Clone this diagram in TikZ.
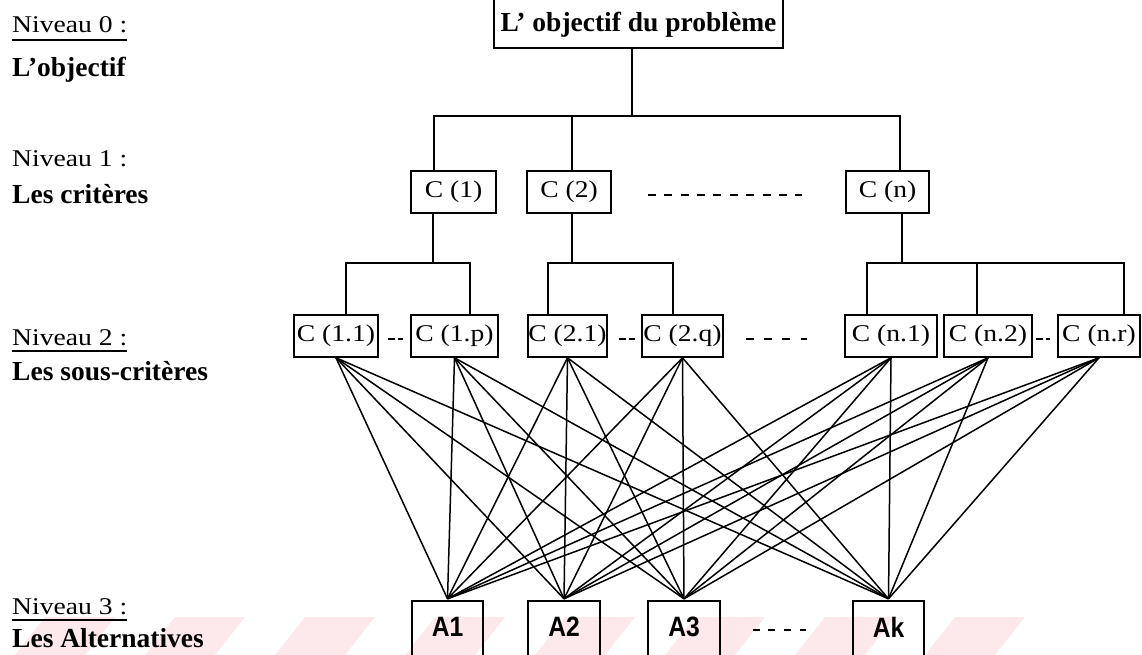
\documentclass[tikz,border=0pt]{standalone}
\usepackage{fontspec}
\setmainfont{Liberation Serif}
\newfontfamily\regfont[FakeStretch=1.15]{Liberation Serif}
\newfontfamily\altfont[FakeStretch=0.88]{Liberation Sans}
\definecolor{wmpink}{RGB}{253,233,236}

\tikzset{
  box/.style={draw, line width=1.6pt, inner sep=0pt, minimum height=42pt,
              font=\fontsize{24}{28}\regfont},
  headbox/.style={draw, line width=1.6pt, inner sep=0pt,
              font=\fontsize{27.5}{32}\selectfont\bfseries},
  lvl/.style={anchor=base west, inner sep=0pt, font=\fontsize{24}{28}\regfont},
  lvlb/.style={anchor=base west, inner sep=0pt, font=\fontsize{27.5}{32}\selectfont\bfseries},
  alt/.style={inner sep=0pt, minimum width=71pt, minimum height=52pt,
              font=\fontsize{28}{32}\altfont\bfseries},
  tree/.style={line width=1.7pt},
  web/.style={line width=1.5pt},
  uline/.style={line width=1.4pt},
  dots/.style={line width=1.6pt, dash pattern=on 8pt off 8.4pt},
  dotsfour/.style={line width=1.6pt, dash pattern=on 8pt off 10.3pt},
  dotsalt/.style={line width=1.6pt, dash pattern=on 7pt off 8.7pt},
  pair/.style={line width=1.6pt, dash pattern=on 7.5pt off 3pt},
}

\begin{document}
\begin{tikzpicture}[x=1pt, y=-1pt]
\useasboundingbox (0,0) rectangle (1142,655);
\clip (0,0) rectangle (1142,655);

% faint watermark bands along the bottom edge
\foreach \x in {45,175,305,435,565,695,825,955} {
  \fill[wmpink] (\x,617) -- (\x+70,617) -- (\x+40,655) -- (\x-30,655) -- cycle;
}

% level labels on the left
\node[lvl] (N0) at (12,33) {Niveau 0 :};
\draw[uline] ([yshift=-7pt]N0.base west) -- ([yshift=-7pt]N0.base east);
\node[lvlb] (L0) at (12,77) {L'objectif};
\node[lvl] (N1) at (12,167) {Niveau 1 :};
\node[lvlb] (L1) at (12,203) {Les critères};
\node[lvl] (N2) at (12,345) {Niveau 2 :};
\draw[uline] ([yshift=-6pt]N2.base west) -- ([yshift=-6pt]N2.base east);
\node[lvlb] (L2) at (12,380) {Les sous-critères};
\node[lvl] (N3) at (12,614) {Niveau 3 :};
\draw[uline] ([yshift=-6pt]N3.base west) -- ([yshift=-6pt]N3.base east);
\node[lvlb] (L3) at (12,647) {Les Alternatives};

% level 0: the goal (its top edge lies above the page)
\node[headbox, minimum width=289pt, minimum height=56pt,
      text height=26pt, text depth=2pt] (T) at (638.5,20) {L' objectif du problème};

% level 1: criteria
\node[box, minimum width=85pt] (C1) at (453.5,192) {C (1)};
\node[box, minimum width=84pt] (C2) at (569,192) {C (2)};
\node[box, minimum width=83pt] (Cn) at (887.5,192) {C (n)};

\coordinate (b0) at (632,116);
\coordinate (b1) at (434,116);
\coordinate (b2) at (572,116);
\coordinate (bn) at (900,116);
\draw[tree] (T.south -| b0) -- (b0);
\draw[tree] (C1.north -| b1) |- (bn) -- (Cn.north -| bn);
\draw[tree] (b2) -- (C2.north -| b2);
\draw[dots] ([xshift=36pt,yshift=-3pt]C2.east) -- ([xshift=-43pt,yshift=-3pt]Cn.west);

% level 2: sub-criteria
\node[box, minimum width=84pt] (C11) at (336,336) {C (1.1)};
\node[box, minimum width=87pt] (C1p) at (454.5,336) {C (1.p)};
\node[box, minimum width=79pt] (C21) at (567.5,336) {C (2.1)};
\node[box, minimum width=81pt] (C2q) at (682.5,336) {C (2.q)};
\node[box, minimum width=92pt] (Cn1) at (891,336) {C (n.1)};
\node[box, minimum width=88pt] (Cn2) at (988,336) {C (n.2)};
\node[box, minimum width=82pt] (Cnr) at (1099,336) {C (n.r)};

% branch under C (1)
\coordinate (d1) at (433,263);
\coordinate (d11) at (346,263);
\coordinate (d1p) at (470,263);
\draw[tree] (C1.south -| d1) -- (d1);
\draw[tree] (C11.north -| d11) |- (d1p) -- (C1p.north -| d1p);

% branch under C (2)
\coordinate (d2) at (572,263);
\coordinate (d21) at (548,263);
\coordinate (d2q) at (673,263);
\draw[tree] (C2.south -| d2) -- (d2);
\draw[tree] (C21.north -| d21) |- (d2q) -- (C2q.north -| d2q);

% branch under C (n)
\coordinate (dn) at (902,263);
\coordinate (dn1) at (867,263);
\coordinate (dn2) at (977,263);
\coordinate (dnr) at (1124,263);
\draw[tree] (Cn.south -| dn) -- (dn);
\draw[tree] (Cn1.north -| dn1) |- (dnr) -- (Cnr.north -| dnr);
\draw[tree] (dn2) -- (Cn2.north -| dn2);

% separators between sub-criteria
\draw[pair] ([xshift=9pt,yshift=-3pt]C11.east) -- ([xshift=-7pt,yshift=-3pt]C1p.west);
\draw[pair] ([xshift=11pt,yshift=-3pt]C21.east) -- ([xshift=-6pt,yshift=-3pt]C2q.west);
\draw[dotsfour] ([xshift=22pt,yshift=-3pt]C2q.east) -- ([xshift=-37pt,yshift=-3pt]Cn1.west);
\draw[pair] ([xshift=3pt,yshift=-3pt]Cn2.east) -- ([xshift=-7pt,yshift=-3pt]Cnr.west);

% level 3: alternatives (boxes run off the bottom edge)
\node[alt] (A1) at (447.5,627) {A1};
\node[alt] (A2) at (564,627) {A2};
\node[alt] (A3) at (684,627) {A3};
\node[alt] (Ak) at (888.5,627) {Ak};
\foreach \a in {A1,A2,A3,Ak} {
  \draw[tree] ([yshift=-20pt]\a.south west) |- (\a.north east) -- ([yshift=-20pt]\a.south east);
}
\draw[dotsalt] ([xshift=33pt,yshift=-3pt]A3.east) -- ([xshift=-47pt,yshift=-3pt]Ak.west);

% every sub-criterion is linked to every alternative
\foreach \s in {C11,C1p,C21,C2q,Cn1,Cn2,Cnr} {
  \foreach \a in {A1,A2,A3,Ak} {
    \draw[web] (\s.south) -- ([yshift=2pt]\a.north);
  }
}
\end{tikzpicture}
\end{document}
